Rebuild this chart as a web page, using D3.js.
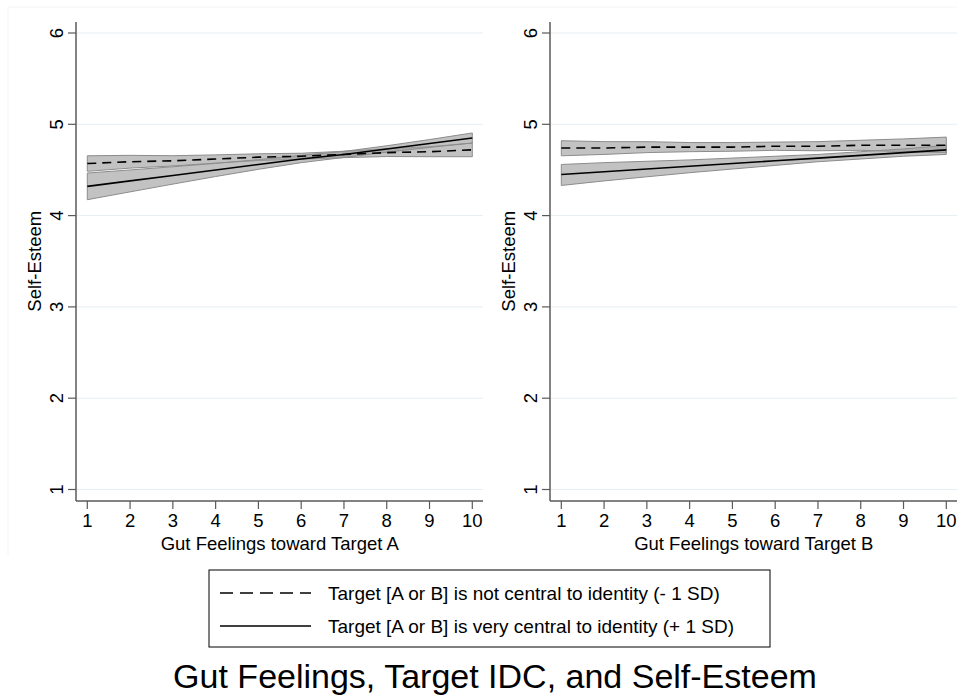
<!DOCTYPE html>
<html>
<head>
<meta charset="utf-8">
<script src="https://cdn.jsdelivr.net/npm/d3@7"></script>
<style>
  body { margin: 0; background: #fff; }
  svg { font-family: "Liberation Sans", Arial, sans-serif; }
</style>
</head>
<body>
<div class="canvas"></div>
<script>
// data
const gutValues = [1, 2, 3, 4, 5, 6, 7, 8, 9, 10];
const xTicks = [1, 2, 3, 4, 5, 6, 7, 8, 9, 10];
const yTicks = [1, 2, 3, 4, 5, 6];

// Target A panel
const aLowMean = [4.57, 4.59, 4.60, 4.62, 4.64, 4.65, 4.67, 4.69, 4.70, 4.72];
const aLowLo   = [4.485, 4.52, 4.544, 4.575, 4.603, 4.617, 4.635, 4.647, 4.645, 4.645];
const aLowHi   = [4.655, 4.66, 4.656, 4.665, 4.677, 4.683, 4.705, 4.733, 4.755, 4.795];
const aHighMean = [4.32, 4.38, 4.44, 4.50, 4.56, 4.62, 4.67, 4.73, 4.79, 4.85];
const aHighLo   = [4.174, 4.26, 4.345, 4.428, 4.507, 4.58, 4.637, 4.695, 4.747, 4.795];
const aHighHi   = [4.466, 4.50, 4.535, 4.572, 4.613, 4.66, 4.703, 4.765, 4.833, 4.905];

// Target B panel
const bLowMean = [4.74, 4.74, 4.75, 4.75, 4.75, 4.76, 4.76, 4.77, 4.77, 4.77];
const bLowLo   = [4.655, 4.67, 4.69, 4.70, 4.705, 4.715, 4.71, 4.715, 4.70, 4.69];
const bLowHi   = [4.82, 4.81, 4.81, 4.80, 4.80, 4.805, 4.81, 4.825, 4.84, 4.86];
const bHighMean = [4.45, 4.48, 4.51, 4.54, 4.57, 4.60, 4.63, 4.66, 4.69, 4.72];
const bHighLo   = [4.33, 4.38, 4.425, 4.47, 4.51, 4.55, 4.59, 4.62, 4.65, 4.67];
const bHighHi   = [4.56, 4.58, 4.595, 4.61, 4.63, 4.65, 4.67, 4.70, 4.73, 4.77];

const panels = [
  {left: 76, title: 'Gut Feelings toward Target A',
   low: [aLowMean, aLowLo, aLowHi], high: [aHighMean, aHighLo, aHighHi]},
  {left: 550, title: 'Gut Feelings toward Target B',
   low: [bLowMean, bLowLo, bLowHi], high: [bHighMean, bHighLo, bHighHi]}
];

const legendItems = [
  {label: 'Target [A or B] is not central to identity (- 1 SD)', dash: '13,7'},
  {label: 'Target [A or B] is very central to identity (+ 1 SD)', dash: null}
];

const svg = d3.select('.canvas')
  .append('svg')
    .attr('width', 965)
    .attr('height', 698);

const axisColor = '#5a5a5a';
const plotTop = 22, plotBottom = 501, plotWidth = 407;
const fs = 18.5;

const y = d3.scaleLinear().domain([1, 6]).range([489.5, 33]);

// faint outer graph region edge
svg.append('line')
  .attr('x1', 8).attr('x2', 8).attr('y1', 7).attr('y2', 555)
  .attr('stroke', '#f3f4f5');
svg.append('line')
  .attr('x1', 8).attr('x2', 957).attr('y1', 7).attr('y2', 7)
  .attr('stroke', '#f3f4f5');

panels.forEach(p => {
  const g = svg.append('g');
  const x = d3.scaleLinear().domain([1, 10]).range([p.left + 11.3, p.left + 396.3]);
  const right = p.left + plotWidth;

  // grid lines
  g.selectAll('line.grid')
    .data(yTicks)
    .enter().append('line')
      .attr('x1', p.left).attr('x2', right)
      .attr('y1', d => y(d)).attr('y2', d => y(d))
      .attr('stroke', '#e6eef2').attr('stroke-width', 1);

  // confidence bands
  const area = d3.area()
    .x((d, i) => x(gutValues[i]))
    .y0(d => y(d[0]))
    .y1(d => y(d[1]));
  [p.low, p.high].forEach(s => {
    const pts = s[1].map((lo, i) => [lo, s[2][i]]);
    g.append('path')
      .datum(pts)
      .attr('d', area)
      .attr('fill', '#9c9c9c')
      .attr('fill-opacity', 0.62)
      .attr('stroke', '#8c8c8c')
      .attr('stroke-width', 1);
  });

  // fitted lines
  const line = d3.line()
    .x((d, i) => x(gutValues[i]))
    .y(d => y(d));
  g.append('path')
    .datum(p.low[0])
    .attr('d', line)
    .attr('fill', 'none')
    .attr('stroke', '#000')
    .attr('stroke-width', 1.6)
    .attr('stroke-dasharray', '9,6');
  g.append('path')
    .datum(p.high[0])
    .attr('d', line)
    .attr('fill', 'none')
    .attr('stroke', '#000')
    .attr('stroke-width', 1.6);

  // axes
  g.append('line')
    .attr('x1', p.left).attr('x2', p.left)
    .attr('y1', plotTop).attr('y2', plotBottom)
    .attr('stroke', axisColor).attr('stroke-width', 1.5);
  g.append('line')
    .attr('x1', p.left).attr('x2', right)
    .attr('y1', plotBottom).attr('y2', plotBottom)
    .attr('stroke', axisColor).attr('stroke-width', 1.5);

  g.selectAll('line.yt')
    .data(yTicks)
    .enter().append('line')
      .attr('x1', p.left - 8).attr('x2', p.left)
      .attr('y1', d => y(d)).attr('y2', d => y(d))
      .attr('stroke', axisColor).attr('stroke-width', 1.2);
  g.selectAll('text.yt')
    .data(yTicks)
    .enter().append('text')
      .attr('transform', d => `translate(${p.left - 13}, ${y(d)}) rotate(-90)`)
      .attr('text-anchor', 'middle')
      .attr('font-size', fs)
      .text(d => d);

  g.selectAll('line.xt')
    .data(xTicks)
    .enter().append('line')
      .attr('x1', d => x(d)).attr('x2', d => x(d))
      .attr('y1', plotBottom).attr('y2', plotBottom + 8)
      .attr('stroke', axisColor).attr('stroke-width', 1.2);
  g.selectAll('text.xt')
    .data(xTicks)
    .enter().append('text')
      .attr('x', d => x(d))
      .attr('y', 527)
      .attr('text-anchor', 'middle')
      .attr('font-size', fs)
      .text(d => d);

  // axis titles
  g.append('text')
    .attr('x', (x(1) + x(10)) / 2)
    .attr('y', 549.5)
    .attr('text-anchor', 'middle')
    .attr('font-size', fs)
    .text(p.title);
  g.append('text')
    .attr('transform', `translate(${p.left - 35}, ${(y(1) + y(6)) / 2}) rotate(-90)`)
    .attr('text-anchor', 'middle')
    .attr('font-size', fs)
    .text('Self-Esteem');
});

// legend
const legend = svg.append('g');
legend.append('rect')
  .attr('x', 209).attr('y', 570)
  .attr('width', 561).attr('height', 77)
  .attr('fill', '#fff').attr('stroke', '#000').attr('stroke-width', 1);
legendItems.forEach((item, i) => {
  const ly = 593 + i * 33;
  legend.append('line')
    .attr('x1', 220).attr('x2', 311)
    .attr('y1', ly).attr('y2', ly)
    .attr('stroke', '#000').attr('stroke-width', 1.6)
    .attr('stroke-dasharray', item.dash);
  legend.append('text')
    .attr('x', 328).attr('y', ly + 7)
    .attr('font-size', 19)
    .text(item.label);
});

// title
svg.append('text')
  .attr('x', 495).attr('y', 688)
  .attr('text-anchor', 'middle')
  .attr('font-size', 34)
  .text('Gut Feelings, Target IDC, and Self-Esteem');
</script>
</body>
</html>
